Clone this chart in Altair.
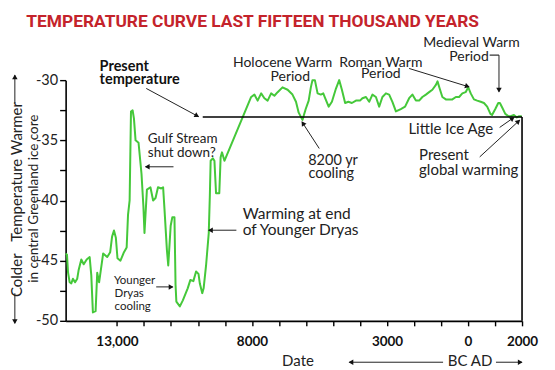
import math
import altair as alt
import pandas as pd

# ---------------- data ----------------
# year: negative = BC ; temperature in central Greenland ice core (deg C)
years = [-14900,-14850,-14810,-14750,-14690,-14630,-14550,-14470,-14420,-14320,
         -14230,-14120,-14010,-13950,-13890,-13790,-13730,-13660,-13510,-13360,
         -13250,-13180,-13110,-13040,-12980,-12870,-12740,-12640,-12590,-12530,
         -12480,-12420,-12370,-12310,-12200,-12090,-12020,-11980,-11890,-11760,
         -11660,-11570,-11480,-11360,-11290,-11240,-11150,-11100,-11010,-10950,
         -10870,-10830,-10800,-10670,-10560,-10380,-10280,-10170,-10070,-9980,
         -9930,-9840,-9790,-9700,-9600,-9560,-9530,-9450,-9390,-9330,
         -9210,-9160,-9110,-9020,-8030,-7910,-7790,-7660,-7540,-7420,
         -7290,-7170,-7050,-6870,-6680,-6500,-6370,-6270,-6130,-6010,
         -5900,-5820,-5760,-5670,-5570,-5450,-5360,-5290,-5160,-5040,
         -4890,-4770,-4670,-4550,-4430,-4300,-4150,-4000,-3910,-3780,
         -3660,-3540,-3410,-3290,-3170,-3040,-2920,-2800,-2670,-2490,
         -2330,-2180,-2060,-1930,-1810,-1690,-1560,-1440,-1320,-1190,
         -1130,-1050,-950,-820,-700,-580,-450,-330,-210,-90,
         10,100,220,340,470,590,710,830,890,1010,
         1120,1180,1270,1380,1500,1580,1700,1810,1890,1990]
temps = [-44.4,-44.5,-46.0,-46.8,-46.9,-46.5,-46.8,-46.5,-45.8,-44.9,
         -45.3,-44.9,-44.7,-46.2,-49.3,-49.2,-46.0,-46.8,-44.4,-44.7,
         -44.3,-43.0,-42.5,-43.1,-44.8,-45.0,-44.3,-43.9,-41.2,-40.0,
         -32.6,-32.5,-33.2,-35.0,-35.2,-37.8,-40.5,-42.7,-39.1,-38.9,
         -40.0,-39.8,-38.9,-39.0,-38.9,-40.7,-44.1,-45.4,-42.1,-41.4,
         -41.4,-47.0,-48.4,-48.8,-48.3,-47.3,-46.6,-46.7,-45.9,-46.1,
         -46.9,-47.7,-47.3,-45.4,-42.7,-39.6,-36.7,-36.5,-36.7,-39.4,
         -39.4,-36.4,-36.0,-36.7,-31.4,-31.2,-31.7,-31.1,-31.5,-31.7,
         -31.1,-31.3,-31.0,-30.6,-30.8,-31.2,-31.8,-32.7,-33.3,-32.4,
         -31.7,-30.6,-30.0,-30.0,-31.1,-31.2,-31.1,-31.5,-32.2,-31.8,
         -30.7,-30.0,-30.8,-31.9,-31.8,-31.9,-31.7,-31.7,-31.5,-31.4,
         -31.8,-31.2,-31.4,-32.2,-31.4,-31.1,-31.2,-31.8,-32.6,-32.4,
         -32.2,-31.5,-31.2,-31.7,-31.7,-31.4,-31.2,-31.0,-30.8,-30.4,
         -30.1,-30.7,-31.4,-31.6,-31.6,-31.6,-31.4,-31.4,-31.1,-31.0,
         -30.6,-31.1,-31.6,-31.7,-31.8,-31.9,-32.2,-32.8,-32.9,-32.4,
         -31.9,-31.9,-32.3,-32.8,-33.0,-33.0,-32.9,-33.1,-33.0,-33.0]

present_temp = -33.07
present_line_start = -9823

x_tick_values = list(range(-13000, 2001, 1000))
x_tick_labels = {-13000: "13,000", -8000: "8000", -3000: "3000", 0: "0", 2000: "2000"}
y_tick_values = [-50, -47.5, -45, -42.5, -40, -37.5, -35, -32.5, -30]

# annotation texts (x = year, y = temperature at baseline, fs = font size)
center_texts = ["Holocene Warm", "Period", "Roman Warm", "Period", "Medieval Warm",
                "Period", "8200 yr", "cooling", "Date"]
center_x = [-6865, -6581, -3227, -3227, 129, 37, -4998, -5065, -6296]
center_y = [-28.92, -30.08, -28.89, -29.86, -27.26, -28.40, -37.07, -38.15, -53.77]
center_fs = [14, 14, 14, 14, 14, 14, 14.5, 14.5, 15]

left_texts = ["Gulf Stream", "shut down?", "Warming at end", "of Younger Dryas",
              "Younger", "Dryas", "cooling", "Little Ice Age", "Present",
              "global warming", "BC AD"]
left_x = [-11856, -11856, -8344, -8344, -13113, -13087, -13087, -2207, -1812, -1812, -750]
left_y = [-35.26, -36.38, -41.58, -42.84, -46.96, -48.04, -49.12, -34.51, -36.65, -37.90, -53.77]
left_fs = [13.5, 13.5, 15.5, 15.5, 11.5, 11.5, 11.5, 15, 15, 15, 15]

bold_texts = ["Present", "temperature"]
bold_x = [-13642, -13642]
bold_y = [-29.25, -30.33]

title_text = "TEMPERATURE CURVE LAST FIFTEEN THOUSAND YEARS"
title_x = [-16359]
title_y = [-25.55]

ytitle_texts = ["Colder", "Temperature", "Warmer", "in central Greenland ice core"]
ytitle_x = [-16690, -16690, -16690, -16080]
ytitle_y = [-46.21, -39.98, -34.03, -39.85]
ytitle_fs = [15, 15, 15, 13.5]

# arrows: start (x1, y1) -> tip (x2, y2)
arrow_x1 = [-11915, -10906, -8577, -11546, -5509, -2181, 1146, 1172, 433, -924, 1035, -16780, -16780]
arrow_y1 = [-30.69, -37.2, -42.47, -47.18, -35.68, -29.03, -27.92, -33.93, -36.38, -53.44, -53.44, -31.91, -47.71]
arrow_x2 = [-9980, -11941, -9601, -10932, -6148, 37, 1146, 1701, 1911, -4399, 1996, -16780, -16780]
arrow_y2 = [-33.03, -37.2, -42.47, -47.18, -33.47, -30.56, -30.97, -33.10, -33.33, -53.44, -53.44, -29.58, -50.2]

# plain segments (no head)
seg_x1 = [present_line_start, 2000, 802]
seg_y1 = [present_temp, present_temp, -27.92]
seg_x2 = [2000, 2000, 1146]
seg_y2 = [present_temp, -50, -27.92]
seg_w = [1.5, 1.6, 1.0]

# ---------------- chart ----------------
W, H = 457, 241
XMIN, XMAX = -14900, 2000
YMIN, YMAX = -50, -30
kx = W / (XMAX - XMIN)
ky = H / (YMAX - YMIN)

xs = alt.Scale(domain=[XMIN, XMAX], nice=False, zero=False)
ys = alt.Scale(domain=[YMIN, YMAX], nice=False, zero=False)

TXT = "#222222"
GREEN = "#45c83a"

label_expr = " : ".join(
    [f"datum.value == {k} ? '{v}'" for k, v in x_tick_labels.items()]) + " : ''"

XAXIS = alt.Axis(values=x_tick_values, labelExpr=label_expr, grid=False,
                 domainColor="black", domainWidth=1.6, tickColor="black",
                 tickWidth=1.4, tickSize=5, labelFont="Lato",
                 labelFontWeight="bold", labelFontSize=13.5, labelColor="#111111",
                 labelPadding=9, labelOverlap=False, labelFlush=False, title=None)
YAXIS = alt.Axis(values=y_tick_values,
                 labelExpr="datum.value % 5 == 0 ? '-' + abs(datum.value) : ''",
                 grid=False, domainColor="black", domainWidth=1.6,
                 tickColor="black", tickWidth=1.4, tickSize=6,
                 labelFont="Lato", labelFontSize=14.5, labelColor=TXT,
                 labelPadding=2, labelOverlap=False, labelFlush=False, title=None)


def X(f):
    return alt.X(f, scale=xs, axis=XAXIS, title=None)


def Y(f):
    return alt.Y(f, scale=ys, axis=YAXIS, title=None)


curve = pd.DataFrame({"year": years, "temp": temps, "i": range(len(years))})
line = alt.Chart(curve).mark_line(color=GREEN, strokeWidth=2, strokeJoin="round").encode(
    x=X("year:Q"), y=Y("temp:Q"), order="i:Q")

segs = pd.DataFrame({"x1": seg_x1, "y1": seg_y1, "x2": seg_x2, "y2": seg_y2, "w": seg_w})
seg_layer = alt.Chart(segs).mark_rule(color="black").encode(
    x=X("x1:Q"), y=Y("y1:Q"), x2="x2:Q", y2="y2:Q",
    strokeWidth=alt.StrokeWidth("w:Q", scale=None))

arrows = pd.DataFrame({"x1": arrow_x1, "y1": arrow_y1, "x2": arrow_x2, "y2": arrow_y2})
arrow_lines = alt.Chart(arrows).mark_rule(color="#222222", strokeWidth=1).encode(
    x=X("x1:Q"), y=Y("y1:Q"), x2="x2:Q", y2="y2:Q")

# arrowheads: direction in screen pixels
hx, hy, ha = [], [], []
for x1, y1, x2, y2 in zip(arrow_x1, arrow_y1, arrow_x2, arrow_y2):
    dx = (x2 - x1) * kx
    dy = -(y2 - y1) * ky
    L = math.hypot(dx, dy)
    ux, uy = dx / L, dy / L
    ang = math.degrees(math.atan2(dx, -dy)) % 360
    back = 2.5
    hx.append(x2 - ux * back / kx)
    hy.append(y2 + uy * back / ky)
    ha.append(ang)
heads = pd.DataFrame({"x": hx, "y": hy, "a": ha})
head_layer = alt.Chart(heads).mark_point(shape="triangle", filled=True, color="#111111",
                                         size=30, opacity=1).encode(
    x=X("x:Q"), y=Y("y:Q"), angle=alt.Angle("a:Q", scale=None))

ct = pd.DataFrame({"t": center_texts, "x": center_x, "y": center_y, "fs": center_fs})
center_layer = alt.Chart(ct).mark_text(align="center", baseline="alphabetic", font="Lato",
                                       color=TXT).encode(
    x=X("x:Q"), y=Y("y:Q"), text="t:N", size=alt.Size("fs:Q", scale=None))

lt = pd.DataFrame({"t": left_texts, "x": left_x, "y": left_y, "fs": left_fs})
left_layer = alt.Chart(lt).mark_text(align="left", baseline="alphabetic", font="Lato",
                                     color=TXT).encode(
    x=X("x:Q"), y=Y("y:Q"), text="t:N", size=alt.Size("fs:Q", scale=None))

bt = pd.DataFrame({"t": bold_texts, "x": bold_x, "y": bold_y})
bold_layer = alt.Chart(bt).mark_text(align="left", baseline="alphabetic", font="Lato",
                                     fontWeight="bold", fontSize=14.5, color="#111111").encode(
    x=X("x:Q"), y=Y("y:Q"), text="t:N")

tt = pd.DataFrame({"t": [title_text], "x": title_x, "y": title_y})
title_layer = alt.Chart(tt).mark_text(align="left", baseline="alphabetic", font="Roboto",
                                      fontWeight="bold", fontSize=17.4, color="#c4232b").encode(
    x=X("x:Q"), y=Y("y:Q"), text="t:N")

yt = pd.DataFrame({"t": ytitle_texts, "x": ytitle_x, "y": ytitle_y, "fs": ytitle_fs})
ytitle_layer = alt.Chart(yt).mark_text(align="center", baseline="middle", font="Lato",
                                       angle=270, color=TXT).encode(
    x=X("x:Q"), y=Y("y:Q"), text="t:N", size=alt.Size("fs:Q", scale=None))

chart = alt.layer(
    line, seg_layer, arrow_lines, head_layer, center_layer, left_layer,
    bold_layer, title_layer, ytitle_layer
).properties(
    width=W, height=H,
    padding={"left": 57.7, "top": 72, "right": 25, "bottom": 48},
    autosize=alt.AutoSizeParams(type="none"),
    background="white",
).configure_view(stroke=None)

chart.save("out.html", embed_options={"renderer": "svg", "actions": False})
